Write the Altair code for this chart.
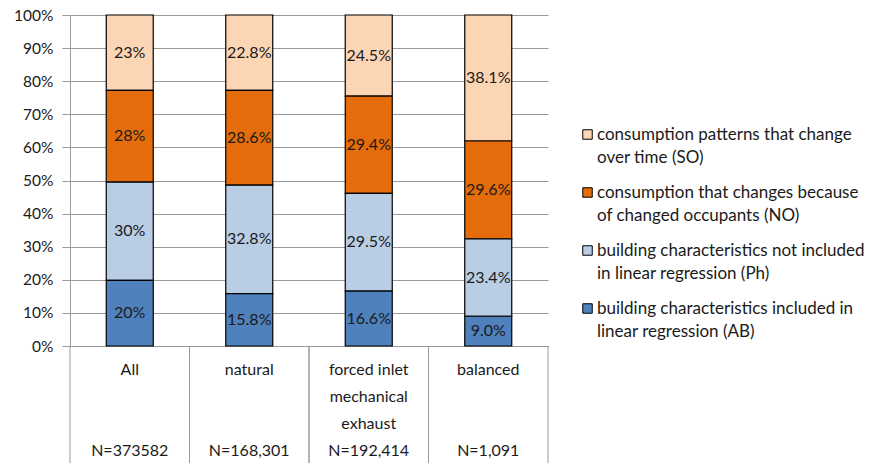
import altair as alt
import pandas as pd

# ---- data ----
groups = ["All", "natural", "forced inlet|mechanical|exhaust", "balanced"]
sample_sizes = ["N=373582", "N=168,301", "N=192,414", "N=1,091"]

series = [
    "consumption patterns that change|over time (SO)",
    "consumption that changes because|of changed occupants (NO)",
    "building characteristics not included|in linear regression (Ph)",
    "building characteristics included in|linear regression (AB)",
]
series_colors = ["#FCD5B5", "#E46C0A", "#B9CDE5", "#4F81BD"]
stack_order = [3, 2, 1, 0]  # AB at the bottom

so_values = [23, 22.8, 24.5, 38.1]
no_values = [28, 28.6, 29.4, 29.6]
ph_values = [30, 32.8, 29.5, 23.4]
ab_values = [20, 15.8, 16.6, 9.0]

so_labels = ["23%", "22.8%", "24.5%", "38.1%"]
no_labels = ["28%", "28.6%", "29.4%", "29.6%"]
ph_labels = ["30%", "32.8%", "29.5%", "23.4%"]
ab_labels = ["20%", "15.8%", "16.6%", "9.0%"]

y_ticks = [i / 10 for i in range(11)]

# ---- build table ----
# x-axis label: category lines padded to 3 lines, then the N line
BLANK = "\u200b"
axis_labels = []
for g, n in zip(groups, sample_sizes):
    lines = g.split("|")
    while len(lines) < 3:
        lines.append(BLANK)
    axis_labels.append("|".join(lines + [n]))

rows = []
all_vals = [so_values, no_values, ph_values, ab_values]
all_labs = [so_labels, no_labels, ph_labels, ab_labels]
for s, vals, labs, o in zip(series, all_vals, all_labs, stack_order):
    for xl, v, lab in zip(axis_labels, vals, labs):
        rows.append({"group": xl, "series": s, "value": v, "label": lab, "ord": o})
df = pd.DataFrame(rows)

FONT = "Lato"
GRID = "#9a9a9a"
INK = "#1a1a1a"

x_enc = alt.X(
    "group:N",
    sort=axis_labels,
    scale=alt.Scale(paddingInner=0, paddingOuter=0),
    axis=alt.Axis(
        title=None,
        labelAngle=0,
        labelExpr="split(datum.label, '|')",
        labelLineHeight=27,
        labelBaseline="top",
        labelPadding=15,
        ticks=False,
        domainColor=GRID,
        labelFont=FONT,
        labelFontSize=16,
        labelColor=INK,
    ),
)

y_axis = alt.Axis(
    title=None,
    values=y_ticks,
    format=".0%",
    grid=True,
    gridColor=GRID,
    domainColor=GRID,
    tickColor=GRID,
    tickSize=8,
    labelPadding=9,
    labelOverlap=False,
    labelFont=FONT,
    labelFontSize=15.5,
    labelColor=INK,
)

base = alt.Chart(df)

bars = base.mark_bar(size=47, stroke="black", strokeWidth=1.2).encode(
    x=x_enc,
    y=alt.Y(
        "value:Q",
        stack="normalize",
        scale=alt.Scale(domain=[0, 1], nice=False),
        axis=y_axis,
    ),
    color=alt.Color(
        "series:N",
        scale=alt.Scale(domain=series, range=series_colors),
        legend=alt.Legend(
            title=None,
            orient="none",
            legendX=509,
            legendY=111,
            labelExpr="split(datum.label, '|')",
            symbolType="square",
            symbolSize=90,
            symbolStrokeColor="black",
            symbolStrokeWidth=1,
            labelFont=FONT,
            labelFontSize=17,
            labelColor=INK,
            labelLimit=0,
            labelOffset=1,
            rowPadding=17,
        ),
    ),
    order=alt.Order("ord:Q"),
)

texts = (
    base.transform_joinaggregate(total="sum(value)", groupby=["group"])
    .transform_window(cum="sum(value)", groupby=["group"], sort=[alt.SortField("ord")])
    .transform_calculate(mid="(datum.cum - datum.value / 2) / datum.total")
    .mark_text(font=FONT, fontSize=16, color=INK, baseline="middle")
    .encode(
        x=alt.X("group:N", sort=axis_labels),
        y=alt.Y("mid:Q", axis=y_axis),
        text="label:N",
    )
)

cats = pd.DataFrame({"group": axis_labels})
rule_left = alt.Chart(cats).mark_rule(color=GRID, strokeWidth=1).encode(
    x=alt.X("group:N", sort=axis_labels, bandPosition=0),
    y=alt.value(331),
    y2=alt.value(448),
)
rule_right = alt.Chart(cats).mark_rule(color=GRID, strokeWidth=1).encode(
    x=alt.X("group:N", sort=axis_labels, bandPosition=1),
    y=alt.value(331),
    y2=alt.value(448),
)

chart = (
    alt.layer(bars, texts, rule_left, rule_right)
    .properties(
        width=478,
        height=331,
        autosize=alt.AutoSizeParams(type="none"),
        padding={"left": 62, "top": 7, "right": 320, "bottom": 117},
    )
    .configure(style={"guide-label": {"lineHeight": 23}})
    .configure_view(strokeWidth=0)
)

chart.save("out.html", embed_options={"renderer": "svg", "actions": False})
